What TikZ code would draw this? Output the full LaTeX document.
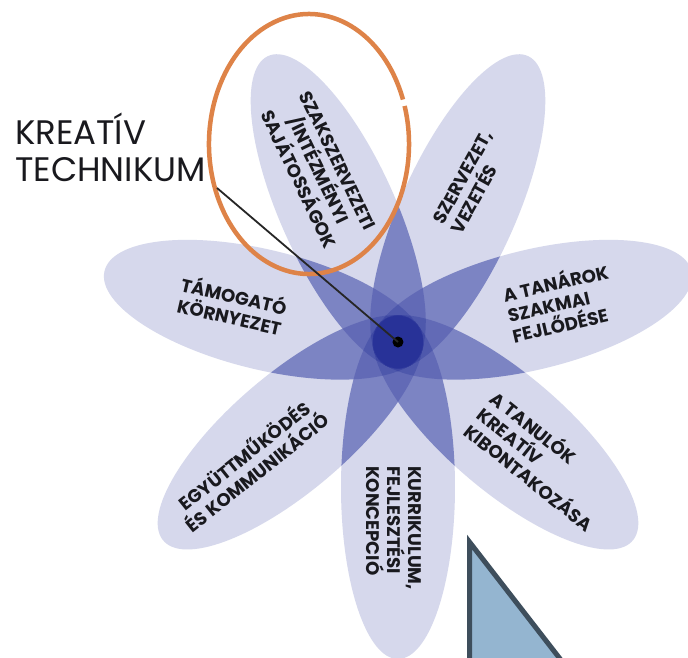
\documentclass[tikz,border=0pt]{standalone}
\usepackage{fontspec}
\setmainfont{Poppins}
\definecolor{petal}{RGB}{214,216,236}
\definecolor{levA}{RGB}{124,132,195}
\definecolor{levB}{RGB}{98,106,182}
\definecolor{levC}{RGB}{78,88,172}
\definecolor{levD}{RGB}{62,72,164}
\definecolor{levE}{RGB}{50,60,158}
\definecolor{levF}{RGB}{40,50,152}
\definecolor{txt}{RGB}{25,25,30}
\definecolor{ringorange}{RGB}{222,131,72}
\definecolor{trifill}{RGB}{148,181,208}
\definecolor{tristroke}{RGB}{62,78,92}
\newcommand\petalclip[1]{\pgfmathsetmacro\pang{12.857+51.4286*#1}\clip[rotate=\pang] (145,0) ellipse [x radius=172, y radius=60];}
\newcommand\petalfill[2]{\pgfmathsetmacro\pang{12.857+51.4286*#1}\fill[#2,rotate=\pang] (145,0) ellipse [x radius=172, y radius=60];}
\begin{document}
\begin{tikzpicture}[x=1pt,y=1pt,
  petaltext/.style={font=\bfseries\fontsize{18.2}{21}\selectfont, text=txt, inner sep=0pt},
  ringline/.style={draw=ringorange, line width=4.5pt},
  tribox/.style={fill=trifill, draw=tristroke, line width=5pt, line join=miter}]
\useasboundingbox (-398,-315) rectangle (290,342);
\clip (-398,-315) rectangle (290,342);
\fill[white] (-398,-315) rectangle (290,342);
\begin{scope}[xscale=0.95]
  % single petals
  \foreach \i in {0,...,6}{\petalfill{\i}{petal}}
  % two overlaps
  \foreach \i in {0,...,6}{\foreach \j in {0,...,6}{\ifnum\j>\i\relax
    \begin{scope}\petalclip{\i}\petalfill{\j}{levA}\end{scope}\fi}}
  % three overlaps
  \foreach \i in {0,...,6}{\foreach \j in {0,...,6}{\foreach \k in {0,...,6}{%
    \ifnum\j>\i\relax\ifnum\k>\j\relax
    \begin{scope}\petalclip{\i}\petalclip{\j}\petalfill{\k}{levB}\end{scope}\fi\fi}}}
  % four overlaps (omit three)
  \foreach \a in {0,...,6}{\foreach \b in {0,...,6}{\foreach \c in {0,...,6}{%
    \ifnum\b>\a\relax\ifnum\c>\b\relax
    \begin{scope}
      \foreach \m in {0,...,6}{\ifnum\m=\a\relax\else\ifnum\m=\b\relax\else\ifnum\m=\c\relax\else\petalclip{\m}\fi\fi\fi}
      \fill[levC] (0,0) circle (90);
    \end{scope}\fi\fi}}}
  % five overlaps (omit two)
  \foreach \a in {0,...,6}{\foreach \b in {0,...,6}{%
    \ifnum\b>\a\relax
    \begin{scope}
      \foreach \m in {0,...,6}{\ifnum\m=\a\relax\else\ifnum\m=\b\relax\else\petalclip{\m}\fi\fi}
      \fill[levD] (0,0) circle (90);
    \end{scope}\fi}}
  % six overlaps (omit one)
  \foreach \a in {0,...,6}{%
    \begin{scope}
      \foreach \m in {0,...,6}{\ifnum\m=\a\relax\else\petalclip{\m}\fi}
      \fill[levE] (0,0) circle (90);
    \end{scope}}
  % all seven
  \begin{scope}
    \foreach \m in {0,...,6}{\petalclip{\m}}
    \fill[levF] (0,0) circle (90);
  \end{scope}
\end{scope}

% petal labels
\node[petaltext, rotate=-64.29, align=center] (p1) at (-80,172) {SZAKSZERVEZETI\\/INTÉZMÉNYI\\SAJÁTOSSÁGOK};
\node[petaltext, rotate=61, align=left] (p2) at (74,160) {SZERVEZET,\\VEZETÉS};
\node[petaltext, rotate=12.86, align=left] (p3) at (162,40) {A TANÁROK\\SZAKMAI\\FEJLŐDÉSE};
\node[petaltext, rotate=-12.86, align=center] (p4) at (-166,37) {TÁMOGATÓ\\KÖRNYEZET};
\node[petaltext, rotate=38.57, align=center] (p5) at (-148,-121) {EGYÜTTMŰKÖDÉS\\ÉS KOMMUNIKÁCIÓ};
\node[petaltext, rotate=-90, align=left] (p6) at (-4,-186) {KURRIKULUM,\\FEJLESZTÉSI\\KONCEPCIÓ};
\node[petaltext, rotate=-38.57, align=left] (p7) at (145,-118) {A TANULÓK\\KREATÍV\\KIBONTAKOZÁSA};

% orange highlight ring with a small gap
\coordinate (ringc) at (-89,198);
\draw[ringline] ([shift={(20:100 and 130)}]ringc) arc[start angle=20, end angle=377, x radius=100, y radius=130];

% title and pointer
\node[anchor=north west, align=left, inner sep=0pt, text=txt, font=\fontsize{34}{37}\selectfont] (title) at (-383,229) {KREATÍV\\TECHNIKUM};
\coordinate (titleend) at (-181,154);
\node[circle, fill=black, inner sep=0pt, minimum size=11pt] (dot) at (0,0) {};
\draw[line width=1.8pt, draw=black!85] (titleend) -- (dot.center);

% triangle at the bottom right
\draw[tribox] (71.5,-200) -- (71.5,-380) -- (211,-380) -- cycle;
\end{tikzpicture}
\end{document}
